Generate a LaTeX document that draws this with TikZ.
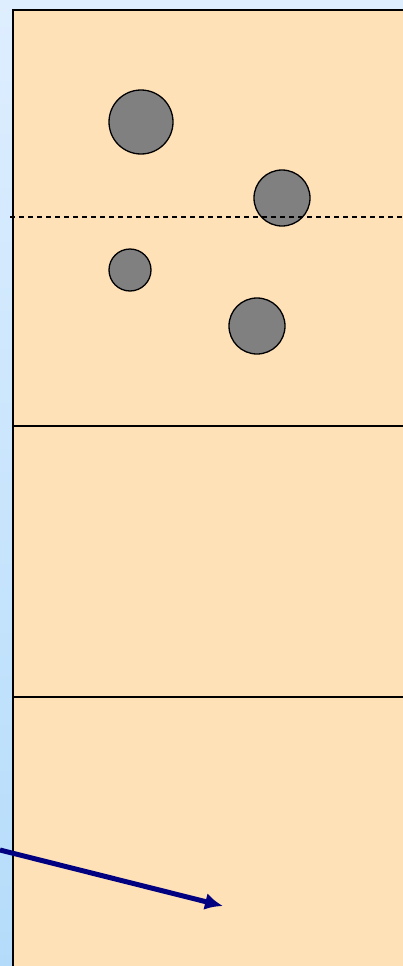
\documentclass[tikz,border=0pt]{standalone}
\usepackage{tikz}
\usetikzlibrary{shapes,arrows.meta,positioning,calc}
\definecolor{skytop}{RGB}{222,238,255}
\definecolor{skybottom}{RGB}{180,220,250}
\definecolor{sandfill}{RGB}{255,225,184}
\definecolor{stonegray}{RGB}{128,128,128}
\definecolor{arrownavy}{RGB}{0,0,128}

\begin{document}
\begin{tikzpicture}[x=1pt,y=-1pt,
  stone/.style={draw, circle, fill=stonegray, line width=1.3pt, inner sep=0pt}]
  % Background
  \shade[top color=skytop, bottom color=skybottom] (0,0) rectangle (403,966);
  \useasboundingbox (0,0) rectangle (403,966);
  % Tank
  \fill[sandfill] (13,10) rectangle (403,966);
  \draw[line width=1.6pt] (403,10) -- (13,10) -- (13,966);
  \draw[line width=1.5pt] (13,426) -- (403,426);
  \draw[line width=1.5pt] (13,697) -- (403,697);
  % Stones
  \node[stone, minimum size=64pt] (s1) at (141,122) {};
  \node[stone, minimum size=56pt] (s2) at (282,198) {};
  \node[stone, minimum size=42pt] (s3) at (130,270) {};
  \node[stone, minimum size=56pt] (s4) at (257,326) {};
  % Surface
  \draw[line width=1.2pt, dash pattern=on 5pt off 4pt] (10,217) -- (403,217);
  % Arrow
  \coordinate (a0) at (0,850);
  \coordinate (a1) at (223,906);
  \draw[arrownavy, line width=5pt, -{Latex[length=18pt,width=17pt]}] (a0) -- (a1);
\end{tikzpicture}
\end{document}
